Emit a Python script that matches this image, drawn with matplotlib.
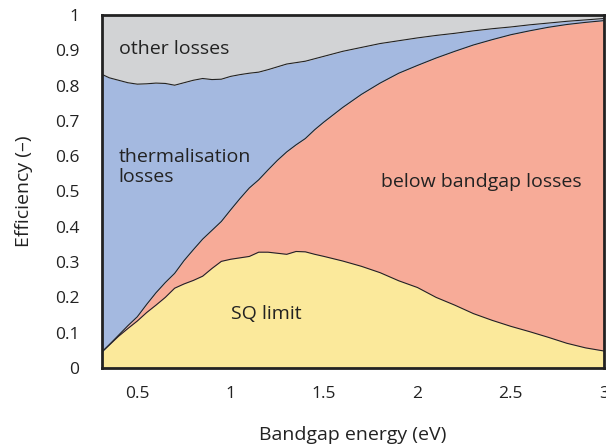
import matplotlib
matplotlib.use("Agg")
import matplotlib.pyplot as plt
import numpy as np

plt.rcParams['font.family'] = ['Open Sans', 'DejaVu Sans']

# Bandgap energy grid (eV)
bandgap = [0.31, 0.35, 0.40, 0.45, 0.50, 0.55, 0.60, 0.65, 0.70, 0.75, 0.80, 0.85,
           0.90, 0.95, 1.00, 1.05, 1.10, 1.15, 1.20, 1.25, 1.30, 1.35, 1.40, 1.45,
           1.50, 1.60, 1.70, 1.80, 1.90, 2.00, 2.10, 2.20, 2.30, 2.40, 2.50, 2.60,
           2.70, 2.80, 2.90, 3.00]

# SQ limit efficiency
sq_limit = [0.045, 0.065, 0.090, 0.112, 0.133, 0.157, 0.178, 0.200, 0.226, 0.238, 0.248, 0.260,
            0.282, 0.302, 0.308, 0.312, 0.316, 0.328, 0.328, 0.325, 0.322, 0.330, 0.329, 0.322,
            0.316, 0.303, 0.288, 0.270, 0.247, 0.228, 0.200, 0.178, 0.154, 0.135, 0.118, 0.103,
            0.087, 0.070, 0.057, 0.048]

# Upper edge of below-bandgap losses (cumulative)
below_edge = [0.045, 0.066, 0.093, 0.120, 0.145, 0.180, 0.213, 0.242, 0.268, 0.304, 0.335, 0.365,
              0.390, 0.415, 0.448, 0.480, 0.510, 0.533, 0.561, 0.588, 0.612, 0.632, 0.650, 0.675,
              0.697, 0.738, 0.775, 0.807, 0.835, 0.857, 0.878, 0.897, 0.915, 0.930, 0.944, 0.955,
              0.965, 0.973, 0.979, 0.984]

# Upper edge of thermalisation losses (cumulative)
therm_edge = [0.832, 0.822, 0.815, 0.808, 0.804, 0.805, 0.807, 0.806, 0.801, 0.808, 0.815, 0.820,
              0.817, 0.818, 0.826, 0.831, 0.835, 0.838, 0.845, 0.853, 0.861, 0.865, 0.869, 0.876,
              0.883, 0.897, 0.908, 0.919, 0.927, 0.935, 0.942, 0.948, 0.955, 0.961, 0.966, 0.972,
              0.977, 0.982, 0.986, 0.990]

x = np.array(bandgap)
sq = np.array(sq_limit)
be = np.array(below_edge)
te = np.array(therm_edge)

fig = plt.figure(figsize=(6.06, 4.48), dpi=100)
ax = fig.add_axes([0.168, 0.1786, 0.829, 0.788])

c_sq = '#fbe99b'
c_below = '#f7ab98'
c_therm = '#a4b9e0'
c_other = '#d2d3d5'
edge = '#222222'

ax.fill_between(x, 0, sq, color=c_sq, lw=0)
ax.fill_between(x, sq, be, color=c_below, lw=0)
ax.fill_between(x, be, te, color=c_therm, lw=0)
ax.fill_between(x, te, 1, color=c_other, lw=0)
for yy in (sq, be, te):
    ax.plot(x, yy, color=edge, lw=0.8)

ax.set_xlim(0.31, 3.0)
ax.set_ylim(0, 1)
ax.set_xticks([0.5, 1, 1.5, 2, 2.5, 3])
ax.set_xticklabels(['0.5', '1', '1.5', '2', '2.5', '3'])
ax.set_yticks([0, 0.1, 0.2, 0.3, 0.4, 0.5, 0.6, 0.7, 0.8, 0.9, 1])
ax.set_yticklabels(['0', '0.1', '0.2', '0.3', '0.4', '0.5', '0.6', '0.7', '0.8', '0.9', '1'])
ax.tick_params(axis='both', length=0, labelsize=12.5, colors='#222222')
ax.tick_params(axis='y', pad=16)
ax.tick_params(axis='x', pad=13)
for s in ax.spines.values():
    s.set_linewidth(2)
    s.set_color('#222222')

ax.set_xlabel('Bandgap energy (eV)', fontsize=14, color='#222222', labelpad=17)
ax.set_ylabel('Efficiency (–)', fontsize=14, color='#222222', labelpad=16)

tk = dict(fontsize=14, color='#222222')
ax.text(0.40, 0.903, 'other losses', ha='left', va='center', **tk)
ax.text(0.40, 0.57, 'thermalisation\nlosses', ha='left', va='center', linespacing=1.15, **tk)
ax.text(2.34, 0.528, 'below bandgap losses', ha='center', va='center', **tk)
ax.text(1.19, 0.153, 'SQ limit', ha='center', va='center', **tk)

fig.savefig('out.png', dpi=100)
